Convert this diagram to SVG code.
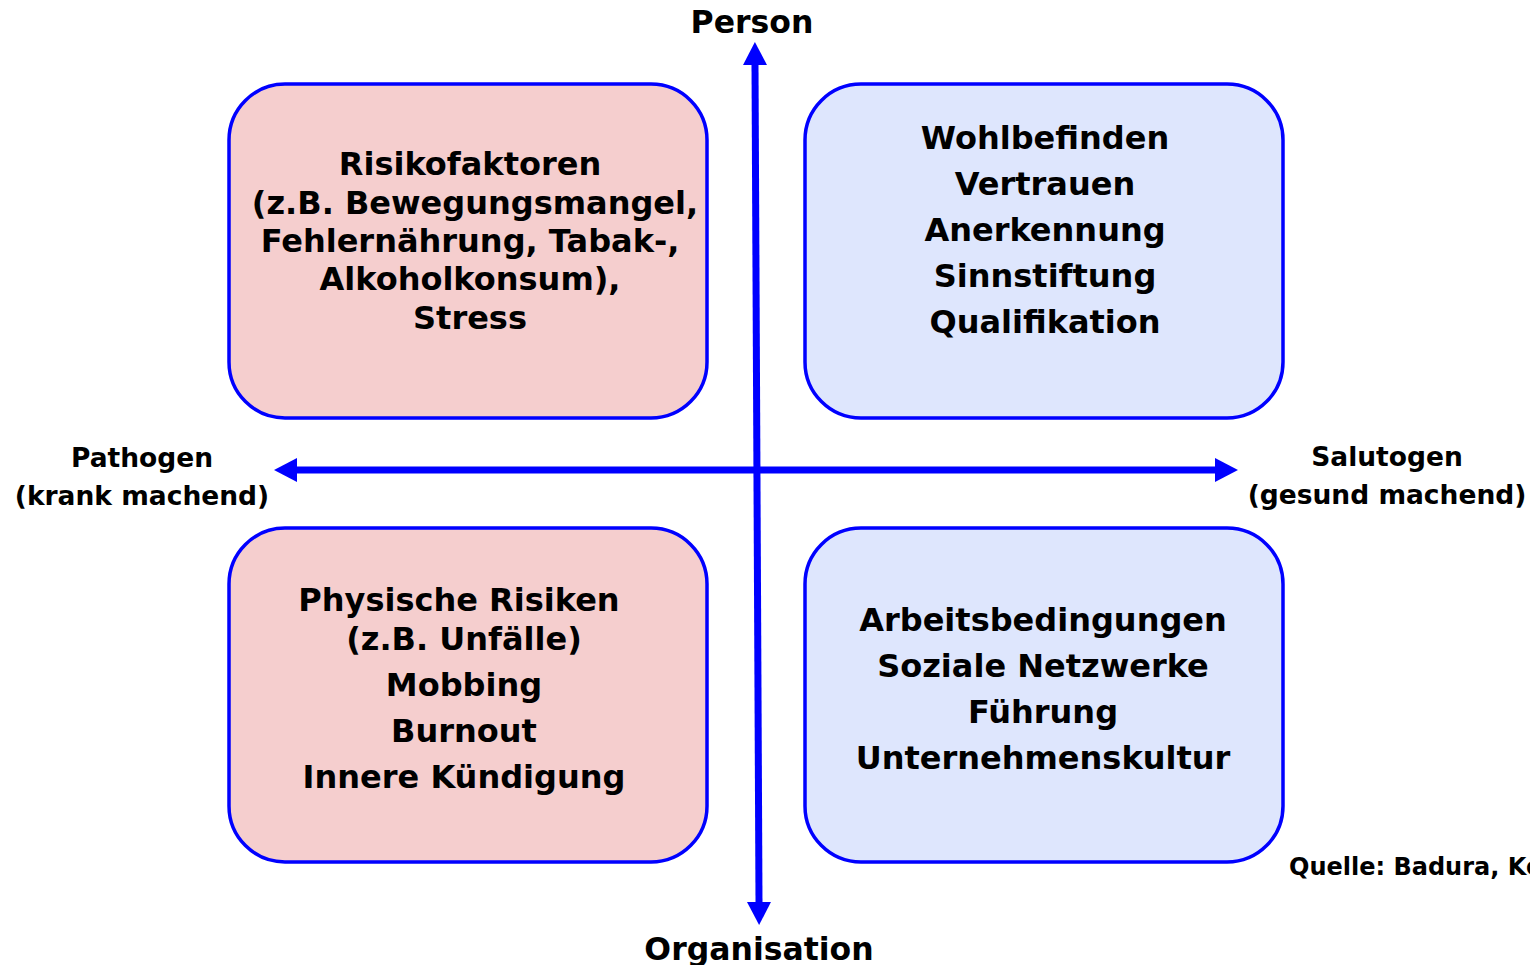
<svg xmlns="http://www.w3.org/2000/svg" width="1530" height="965" viewBox="0 0 1530 965">
<style>
.t{font-family:"DejaVu Sans","Verdana",sans-serif;font-weight:bold;fill:#000;text-anchor:middle}
.b{font-size:32px}
.ax{font-size:31.5px}
.lab{font-size:26.5px}
.box{stroke:#0000FF;stroke-width:3.5}
.neg{fill:#F5CECE}
.pos{fill:#DEE6FD}
.arr{stroke:#0000FF;stroke-width:7;fill:none}
</style>
<defs>
<marker id="ah" markerUnits="userSpaceOnUse" viewBox="0 -12 23 24" markerWidth="23" markerHeight="24" refX="0" refY="0" orient="auto-start-reverse">
<path d="M0,-12 L23,0 L0,12 z" fill="#0000FF"/>
</marker>
</defs>
<g id="connectors">
<line class="arr" x1="297" y1="470" x2="1215" y2="470" marker-start="url(#ah)" marker-end="url(#ah)"/>
<line class="arr" x1="755" y1="65" x2="759" y2="902" marker-start="url(#ah)" marker-end="url(#ah)"/>
</g>
<g id="risikofaktoren">
<rect class="box neg" x="229" y="84" width="478" height="334" rx="56"/>
<text class="t b" x="470" y="175">Risikofaktoren</text>
<text class="t b" x="475" y="214">(z.B. Bewegungsmangel,</text>
<text class="t b" x="470" y="252">Fehlernährung, Tabak-,</text>
<text class="t b" x="470" y="290">Alkoholkonsum),</text>
<text class="t b" x="470" y="329">Stress</text>
</g>
<g id="wohlbefinden">
<rect class="box pos" x="805" y="84" width="478" height="334" rx="56"/>
<text class="t b" x="1045" y="149">Wohlbefinden</text>
<text class="t b" x="1045" y="195">Vertrauen</text>
<text class="t b" x="1045" y="241">Anerkennung</text>
<text class="t b" x="1045" y="287">Sinnstiftung</text>
<text class="t b" x="1045" y="333">Qualifikation</text>
</g>
<g id="physische">
<rect class="box neg" x="229" y="528" width="478" height="334" rx="56"/>
<text class="t b" x="459" y="611">Physische Risiken</text>
<text class="t b" x="464" y="650">(z.B. Unfälle)</text>
<text class="t b" x="464" y="696">Mobbing</text>
<text class="t b" x="464" y="742">Burnout</text>
<text class="t b" x="464" y="788">Innere Kündigung</text>
</g>
<g id="arbeitsbedingungen">
<rect class="box pos" x="805" y="528" width="478" height="334" rx="56"/>
<text class="t b" x="1043" y="631">Arbeitsbedingungen</text>
<text class="t b" x="1043" y="677">Soziale Netzwerke</text>
<text class="t b" x="1043" y="723">Führung</text>
<text class="t b" x="1043" y="769">Unternehmenskultur</text>
</g>
<g id="person"><text class="t ax" x="752" y="33">Person</text></g>
<g id="organisation"><text class="t ax" x="759" y="960">Organisation</text></g>
<g id="pathogen">
<text class="t lab" x="142" y="467">Pathogen</text>
<text class="t lab" x="142" y="505">(krank machend)</text>
</g>
<g id="salutogen">
<text class="t lab" x="1387" y="466">Salutogen</text>
<text class="t lab" x="1387" y="504">(gesund machend)</text>
</g>
<g id="quelle"><text class="t" style="font-size:24px;text-anchor:start" x="1289" y="875">Quelle: Badura, Kö</text></g>
</svg>
